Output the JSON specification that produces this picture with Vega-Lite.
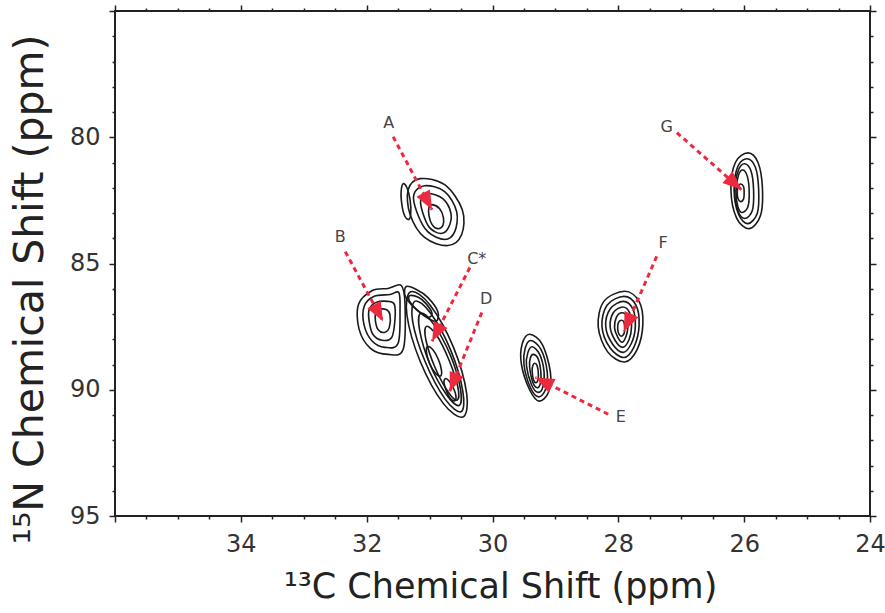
{
  "$schema": "https://vega.github.io/schema/vega-lite/v6.json",
  "width": 755,
  "height": 505,
  "autosize": {"type": "none"},
  "padding": {"left": 115, "top": 11, "right": 15, "bottom": 97},
  "background": "white",
  "config": {"view": {"stroke": "#222", "strokeWidth": 2}, "font": "DejaVu Sans"},
  "datasets": {
    "contours": [
      {"c":"A1","i":0,"x":31.15,"y":81.64},{"c":"A1","i":1,"x":30.76,"y":81.88},{"c":"A1","i":2,"x":30.48,"y":82.87},{"c":"A1","i":3,"x":30.49,"y":83.85},{"c":"A1","i":4,"x":30.71,"y":84.29},{"c":"A1","i":5,"x":31.08,"y":83.97},{"c":"A1","i":6,"x":31.31,"y":83.06},{"c":"A1","i":7,"x":31.34,"y":82.08},
      {"c":"A2","i":0,"x":31.08,"y":81.92},{"c":"A2","i":1,"x":30.76,"y":82.15},{"c":"A2","i":2,"x":30.57,"y":82.94},{"c":"A2","i":3,"x":30.60,"y":83.74},{"c":"A2","i":4,"x":30.76,"y":84.05},{"c":"A2","i":5,"x":31.03,"y":83.74},{"c":"A2","i":6,"x":31.20,"y":82.98},{"c":"A2","i":7,"x":31.25,"y":82.27},
      {"c":"A3","i":0,"x":31.03,"y":82.23},{"c":"A3","i":1,"x":30.79,"y":82.43},{"c":"A3","i":2,"x":30.66,"y":83.02},{"c":"A3","i":3,"x":30.70,"y":83.58},{"c":"A3","i":4,"x":30.82,"y":83.81},{"c":"A3","i":5,"x":31.00,"y":83.58},{"c":"A3","i":6,"x":31.11,"y":82.98},{"c":"A3","i":7,"x":31.14,"y":82.47},
      {"c":"A4","i":0,"x":30.96,"y":82.67},{"c":"A4","i":1,"x":30.84,"y":82.83},{"c":"A4","i":2,"x":30.78,"y":83.18},{"c":"A4","i":3,"x":30.79,"y":83.50},{"c":"A4","i":4,"x":30.87,"y":83.62},{"c":"A4","i":5,"x":30.96,"y":83.46},{"c":"A4","i":6,"x":31.01,"y":83.10},{"c":"A4","i":7,"x":31.01,"y":82.79},
      {"c":"A5","i":0,"x":31.42,"y":81.84},{"c":"A5","i":1,"x":31.36,"y":82.00},{"c":"A5","i":2,"x":31.31,"y":82.47},{"c":"A5","i":3,"x":31.30,"y":83.06},{"c":"A5","i":4,"x":31.34,"y":83.26},{"c":"A5","i":5,"x":31.41,"y":83.02},{"c":"A5","i":6,"x":31.45,"y":82.47},{"c":"A5","i":7,"x":31.45,"y":82.08},
      {"c":"G1","i":0,"x":25.94,"y":80.62},{"c":"G1","i":1,"x":25.78,"y":81.0},{"c":"G1","i":2,"x":25.71,"y":82.0},{"c":"G1","i":3,"x":25.74,"y":83.1},{"c":"G1","i":4,"x":25.92,"y":83.62},{"c":"G1","i":5,"x":26.12,"y":83.2},{"c":"G1","i":6,"x":26.21,"y":82.1},{"c":"G1","i":7,"x":26.14,"y":81.0},
      {"c":"G2","i":0,"x":25.95,"y":80.85},{"c":"G2","i":1,"x":25.82,"y":81.2},{"c":"G2","i":2,"x":25.77,"y":82.05},{"c":"G2","i":3,"x":25.79,"y":83.0},{"c":"G2","i":4,"x":25.94,"y":83.42},{"c":"G2","i":5,"x":26.09,"y":83.05},{"c":"G2","i":6,"x":26.16,"y":82.1},{"c":"G2","i":7,"x":26.10,"y":81.15},
      {"c":"G3","i":0,"x":25.99,"y":81.05},{"c":"G3","i":1,"x":25.89,"y":81.35},{"c":"G3","i":2,"x":25.85,"y":82.1},{"c":"G3","i":3,"x":25.87,"y":82.9},{"c":"G3","i":4,"x":25.99,"y":83.22},{"c":"G3","i":5,"x":26.10,"y":82.9},{"c":"G3","i":6,"x":26.15,"y":82.1},{"c":"G3","i":7,"x":26.09,"y":81.3},
      {"c":"G4","i":0,"x":26.02,"y":81.3},{"c":"G4","i":1,"x":25.95,"y":81.55},{"c":"G4","i":2,"x":25.92,"y":82.15},{"c":"G4","i":3,"x":25.94,"y":82.75},{"c":"G4","i":4,"x":26.03,"y":82.98},{"c":"G4","i":5,"x":26.10,"y":82.75},{"c":"G4","i":6,"x":26.13,"y":82.15},{"c":"G4","i":7,"x":26.09,"y":81.5},
      {"c":"G5","i":0,"x":26.06,"y":81.85},{"c":"G5","i":1,"x":26.01,"y":81.95},{"c":"G5","i":2,"x":26.0,"y":82.2},{"c":"G5","i":3,"x":26.01,"y":82.45},{"c":"G5","i":4,"x":26.06,"y":82.55},{"c":"G5","i":5,"x":26.1,"y":82.42},{"c":"G5","i":6,"x":26.11,"y":82.2},{"c":"G5","i":7,"x":26.1,"y":81.97},
      {"c":"F1","i":0,"x":27.90,"y":86.1},{"c":"F1","i":1,"x":27.67,"y":86.5},{"c":"F1","i":2,"x":27.61,"y":87.4},{"c":"F1","i":3,"x":27.70,"y":88.4},{"c":"F1","i":4,"x":27.90,"y":88.9},{"c":"F1","i":5,"x":28.17,"y":88.5},{"c":"F1","i":6,"x":28.32,"y":87.5},{"c":"F1","i":7,"x":28.23,"y":86.5},
      {"c":"F2","i":0,"x":27.91,"y":86.3},{"c":"F2","i":1,"x":27.72,"y":86.65},{"c":"F2","i":2,"x":27.67,"y":87.45},{"c":"F2","i":3,"x":27.75,"y":88.3},{"c":"F2","i":4,"x":27.91,"y":88.72},{"c":"F2","i":5,"x":28.13,"y":88.35},{"c":"F2","i":6,"x":28.26,"y":87.5},{"c":"F2","i":7,"x":28.18,"y":86.65},
      {"c":"F3","i":0,"x":27.92,"y":86.5},{"c":"F3","i":1,"x":27.77,"y":86.8},{"c":"F3","i":2,"x":27.73,"y":87.5},{"c":"F3","i":3,"x":27.79,"y":88.15},{"c":"F3","i":4,"x":27.92,"y":88.52},{"c":"F3","i":5,"x":28.09,"y":88.2},{"c":"F3","i":6,"x":28.20,"y":87.5},{"c":"F3","i":7,"x":28.13,"y":86.8},
      {"c":"F4","i":0,"x":27.93,"y":86.72},{"c":"F4","i":1,"x":27.82,"y":86.95},{"c":"F4","i":2,"x":27.79,"y":87.5},{"c":"F4","i":3,"x":27.83,"y":88.02},{"c":"F4","i":4,"x":27.93,"y":88.32},{"c":"F4","i":5,"x":28.05,"y":88.05},{"c":"F4","i":6,"x":28.13,"y":87.5},{"c":"F4","i":7,"x":28.08,"y":86.95},
      {"c":"F5","i":0,"x":27.94,"y":86.95},{"c":"F5","i":1,"x":27.87,"y":87.1},{"c":"F5","i":2,"x":27.85,"y":87.55},{"c":"F5","i":3,"x":27.88,"y":87.9},{"c":"F5","i":4,"x":27.94,"y":88.12},{"c":"F5","i":5,"x":28.01,"y":87.92},{"c":"F5","i":6,"x":28.06,"y":87.55},{"c":"F5","i":7,"x":28.03,"y":87.12},
      {"c":"F6","i":0,"x":27.95,"y":87.25},{"c":"F6","i":1,"x":27.91,"y":87.33},{"c":"F6","i":2,"x":27.90,"y":87.6},{"c":"F6","i":3,"x":27.91,"y":87.78},{"c":"F6","i":4,"x":27.95,"y":87.88},{"c":"F6","i":5,"x":27.99,"y":87.8},{"c":"F6","i":6,"x":28.01,"y":87.6},{"c":"F6","i":7,"x":28.0,"y":87.35},
      {"c":"E1","i":0,"x":29.41,"y":87.8},{"c":"E1","i":1,"x":29.21,"y":88.2},{"c":"E1","i":2,"x":29.08,"y":89.3},{"c":"E1","i":3,"x":29.11,"y":90.1},{"c":"E1","i":4,"x":29.26,"y":90.45},{"c":"E1","i":5,"x":29.41,"y":90.0},{"c":"E1","i":6,"x":29.54,"y":89.0},{"c":"E1","i":7,"x":29.53,"y":88.2},
      {"c":"E2","i":0,"x":29.39,"y":88.05},{"c":"E2","i":1,"x":29.23,"y":88.4},{"c":"E2","i":2,"x":29.13,"y":89.3},{"c":"E2","i":3,"x":29.16,"y":90.0},{"c":"E2","i":4,"x":29.27,"y":90.28},{"c":"E2","i":5,"x":29.40,"y":89.9},{"c":"E2","i":6,"x":29.50,"y":89.0},{"c":"E2","i":7,"x":29.48,"y":88.35},
      {"c":"E3","i":0,"x":29.37,"y":88.3},{"c":"E3","i":1,"x":29.25,"y":88.6},{"c":"E3","i":2,"x":29.18,"y":89.3},{"c":"E3","i":3,"x":29.20,"y":89.9},{"c":"E3","i":4,"x":29.28,"y":90.1},{"c":"E3","i":5,"x":29.38,"y":89.8},{"c":"E3","i":6,"x":29.46,"y":89.05},{"c":"E3","i":7,"x":29.44,"y":88.55},
      {"c":"E4","i":0,"x":29.35,"y":88.6},{"c":"E4","i":1,"x":29.27,"y":88.8},{"c":"E4","i":2,"x":29.23,"y":89.35},{"c":"E4","i":3,"x":29.24,"y":89.75},{"c":"E4","i":4,"x":29.29,"y":89.92},{"c":"E4","i":5,"x":29.36,"y":89.7},{"c":"E4","i":6,"x":29.41,"y":89.1},{"c":"E4","i":7,"x":29.40,"y":88.75},
      {"c":"E5","i":0,"x":29.33,"y":88.95},{"c":"E5","i":1,"x":29.29,"y":89.05},{"c":"E5","i":2,"x":29.27,"y":89.4},{"c":"E5","i":3,"x":29.28,"y":89.62},{"c":"E5","i":4,"x":29.31,"y":89.72},{"c":"E5","i":5,"x":29.35,"y":89.6},{"c":"E5","i":6,"x":29.37,"y":89.25},{"c":"E5","i":7,"x":29.36,"y":89.05},
      {"c":"B1","i":0,"x":31.91,"y":86.07},{"c":"B1","i":1,"x":31.66,"y":85.99},{"c":"B1","i":2,"x":31.45,"y":85.87},{"c":"B1","i":3,"x":31.39,"y":86.62},{"c":"B1","i":4,"x":31.42,"y":88.40},{"c":"B1","i":5,"x":31.66,"y":88.60},{"c":"B1","i":6,"x":31.94,"y":88.36},{"c":"B1","i":7,"x":32.12,"y":87.61},{"c":"B1","i":8,"x":32.13,"y":86.62},
      {"c":"B2","i":0,"x":31.88,"y":86.30},{"c":"B2","i":1,"x":31.63,"y":86.23},{"c":"B2","i":2,"x":31.49,"y":86.15},{"c":"B2","i":3,"x":31.47,"y":86.82},{"c":"B2","i":4,"x":31.50,"y":88.16},{"c":"B2","i":5,"x":31.71,"y":88.32},{"c":"B2","i":6,"x":31.91,"y":88.08},{"c":"B2","i":7,"x":32.04,"y":87.45},{"c":"B2","i":8,"x":32.04,"y":86.70},
      {"c":"B3","i":0,"x":31.85,"y":86.54},{"c":"B3","i":1,"x":31.66,"y":86.50},{"c":"B3","i":2,"x":31.56,"y":86.62},{"c":"B3","i":3,"x":31.55,"y":87.21},{"c":"B3","i":4,"x":31.60,"y":87.92},{"c":"B3","i":5,"x":31.75,"y":88.04},{"c":"B3","i":6,"x":31.90,"y":87.81},{"c":"B3","i":7,"x":31.96,"y":87.29},{"c":"B3","i":8,"x":31.96,"y":86.82},
      {"c":"B4","i":0,"x":31.82,"y":86.82},{"c":"B4","i":1,"x":31.69,"y":86.82},{"c":"B4","i":2,"x":31.63,"y":87.02},{"c":"B4","i":3,"x":31.64,"y":87.53},{"c":"B4","i":4,"x":31.72,"y":87.73},{"c":"B4","i":5,"x":31.82,"y":87.61},{"c":"B4","i":6,"x":31.86,"y":87.29},{"c":"B4","i":7,"x":31.86,"y":86.98},
      {"c":"CD1","i":0,"x":30.47,"y":91.08},{"c":"CD1","i":1,"x":30.41,"y":90.16},{"c":"CD1","i":2,"x":30.62,"y":88.32},{"c":"CD1","i":3,"x":30.99,"y":86.65},{"c":"CD1","i":4,"x":31.30,"y":86.12},{"c":"CD1","i":5,"x":31.36,"y":87.04},{"c":"CD1","i":6,"x":31.15,"y":88.87},{"c":"CD1","i":7,"x":30.78,"y":90.55},
      {"c":"CD2","i":0,"x":30.50,"y":90.87},{"c":"CD2","i":1,"x":30.47,"y":90.08},{"c":"CD2","i":2,"x":30.66,"y":88.46},{"c":"CD2","i":3,"x":30.98,"y":86.98},{"c":"CD2","i":4,"x":31.23,"y":86.49},{"c":"CD2","i":5,"x":31.27,"y":87.28},{"c":"CD2","i":6,"x":31.07,"y":88.89},{"c":"CD2","i":7,"x":30.75,"y":90.38},
      {"c":"CD3","i":0,"x":30.53,"y":90.62},{"c":"CD3","i":1,"x":30.51,"y":89.96},{"c":"CD3","i":2,"x":30.67,"y":88.63},{"c":"CD3","i":3,"x":30.94,"y":87.39},{"c":"CD3","i":4,"x":31.14,"y":86.97},{"c":"CD3","i":5,"x":31.16,"y":87.62},{"c":"CD3","i":6,"x":31.00,"y":88.96},{"c":"CD3","i":7,"x":30.73,"y":90.20},
      {"c":"CD4","i":0,"x":30.56,"y":90.41},{"c":"CD4","i":1,"x":30.55,"y":89.90},{"c":"CD4","i":2,"x":30.69,"y":88.83},{"c":"CD4","i":3,"x":30.89,"y":87.83},{"c":"CD4","i":4,"x":31.05,"y":87.49},{"c":"CD4","i":5,"x":31.06,"y":88.01},{"c":"CD4","i":6,"x":30.92,"y":89.08},{"c":"CD4","i":7,"x":30.71,"y":90.07},
      {"c":"Cin","i":0,"x":30.83,"y":89.46},{"c":"Cin","i":1,"x":30.81,"y":89.24},{"c":"Cin","i":2,"x":30.86,"y":88.80},{"c":"Cin","i":3,"x":30.95,"y":88.41},{"c":"Cin","i":4,"x":31.03,"y":88.29},{"c":"Cin","i":5,"x":31.05,"y":88.51},{"c":"Cin","i":6,"x":31.00,"y":88.95},{"c":"Cin","i":7,"x":30.91,"y":89.34},
      {"c":"Din","i":0,"x":30.60,"y":90.44},{"c":"Din","i":1,"x":30.58,"y":90.26},{"c":"Din","i":2,"x":30.62,"y":89.94},{"c":"Din","i":3,"x":30.69,"y":89.65},{"c":"Din","i":4,"x":30.75,"y":89.56},{"c":"Din","i":5,"x":30.77,"y":89.73},{"c":"Din","i":6,"x":30.73,"y":90.06},{"c":"Din","i":7,"x":30.67,"y":90.35},
      {"c":"CS1","i":0,"x":31.37,"y":85.91},{"c":"CS1","i":1,"x":31.21,"y":86.03},{"c":"CS1","i":2,"x":31.03,"y":86.34},{"c":"CS1","i":3,"x":30.87,"y":86.90},{"c":"CS1","i":4,"x":30.90,"y":87.29},{"c":"CS1","i":5,"x":31.09,"y":87.06},{"c":"CS1","i":6,"x":31.28,"y":86.66},{"c":"CS1","i":7,"x":31.39,"y":86.27},
      {"c":"CS2","i":0,"x":31.31,"y":86.27},{"c":"CS2","i":1,"x":31.18,"y":86.34},{"c":"CS2","i":2,"x":31.06,"y":86.58},{"c":"CS2","i":3,"x":30.96,"y":86.98},{"c":"CS2","i":4,"x":31.03,"y":87.13},{"c":"CS2","i":5,"x":31.17,"y":86.90},{"c":"CS2","i":6,"x":31.28,"y":86.62},{"c":"CS2","i":7,"x":31.33,"y":86.42}
    ],
    "arrows": [
      {"label":"A","tail_x":31.58,"tail_y":79.98,"tip_x":30.96,"tip_y":82.87,"lx":31.65,"ly":79.43},
      {"label":"B","tail_x":32.34,"tail_y":84.53,"tip_x":31.74,"tip_y":87.29,"lx":32.42,"ly":83.97},
      {"label":"C*","tail_x":30.36,"tail_y":85.16,"tip_x":30.96,"tip_y":88.08,"lx":30.25,"ly":84.84},
      {"label":"D","tail_x":30.17,"tail_y":86.94,"tip_x":30.68,"tip_y":90.06,"lx":30.10,"ly":86.42},
      {"label":"E","tail_x":28.16,"tail_y":90.97,"tip_x":29.32,"tip_y":89.51,"lx":27.96,"ly":91.09},
      {"label":"F","tail_x":27.39,"tail_y":84.72,"tip_x":27.91,"tip_y":87.69,"lx":27.29,"ly":84.17},
      {"label":"G","tail_x":27.07,"tail_y":79.82,"tip_x":26.04,"tip_y":82.08,"lx":27.23,"ly":79.58}
    ]
  },
  "layer": [
    {
      "data": {"name": "contours"},
      "mark": {"type": "line", "interpolate": "cardinal-closed", "stroke": "#1a1a1a", "strokeWidth": 1.6},
      "encoding": {
        "x": {"field": "x", "type": "quantitative",
          "scale": {"domain": [24, 36], "reverse": true, "nice": false, "zero": false},
          "axis": {"orient": "bottom", "values": [24,24.5,25,25.5,26,26.5,27,27.5,28,28.5,29,29.5,30,30.5,31,31.5,32,32.5,33,33.5,34,34.5,35,35.5,36],
            "grid": false, "domain": false, "tickColor": "#222", "tickWidth": 1.5,
            "tickSize": {"condition": {"test": "datum.value % 2 === 0", "value": 6}, "value": 3},
            "labelExpr": "datum.value % 2 === 0 && datum.value < 35 ? '' + datum.value : ''",
            "labelFont": "DejaVu Sans", "labelFontSize": 24, "labelColor": "#333", "labelPadding": 10,
            "labelOverlap": false, "labelFlush": false,
            "title": "¹³C Chemical Shift (ppm)", "titleFont": "DejaVu Sans", "titleFontSize": 35, "titleFontWeight": "normal",
            "titleColor": "#222", "titleX": 385, "titleY": 81, "titleBaseline": "alphabetic", "titleAlign": "center"}},
        "y": {"field": "y", "type": "quantitative",
          "scale": {"domain": [75, 95], "reverse": true, "nice": false, "zero": false},
          "axis": {"orient": "left", "values": [75,76,77,78,79,80,81,82,83,84,85,86,87,88,89,90,91,92,93,94,95],
            "grid": false, "domain": false, "tickColor": "#222", "tickWidth": 1.5,
            "tickSize": {"condition": {"test": "datum.value % 5 === 0", "value": 6}, "value": 3},
            "labelExpr": "datum.value % 5 === 0 && datum.value > 76 ? '' + datum.value : ''",
            "labelFont": "DejaVu Sans", "labelFontSize": 24, "labelColor": "#333", "labelPadding": 9,
            "labelOverlap": false, "labelFlush": false,
            "title": "¹⁵N Chemical Shift (ppm)", "titleFont": "DejaVu Sans", "titleFontSize": 41, "titleFontWeight": "normal",
            "titleColor": "#222", "titleAngle": -90, "titleX": -73, "titleY": 278, "titleBaseline": "alphabetic", "titleAlign": "center"}},
        "detail": {"field": "c", "type": "nominal"},
        "order": {"field": "i", "type": "quantitative"}
      }
    },
    {
      "data": {"name": "arrows"},
      "mark": {"type": "rule", "stroke": "#ec2a3e", "strokeWidth": 3, "strokeDash": [5, 4]},
      "encoding": {
        "x": {"field": "tail_x", "type": "quantitative", "axis": null},
        "x2": {"field": "tip_x"},
        "y": {"field": "tail_y", "type": "quantitative", "axis": null},
        "y2": {"field": "tip_y"}
      }
    },
    {
      "data": {"name": "arrows"},
      "mark": {"type": "point", "shape": "M0,0 L-0.85,2.1 L0.85,2.1 Z", "filled": true, "color": "#ec2a3e", "opacity": 1, "size": 324,
        "angle": {"expr": "atan2(scale('x', datum.tip_x) - scale('x', datum.tail_x), scale('y', datum.tail_y) - scale('y', datum.tip_y)) * 180 / PI"}},
      "encoding": {
        "x": {"field": "tip_x", "type": "quantitative", "axis": null},
        "y": {"field": "tip_y", "type": "quantitative", "axis": null}
      }
    },
    {
      "data": {"name": "arrows"},
      "mark": {"type": "text", "font": "DejaVu Sans", "fontSize": 16, "color": "#444", "align": "center", "baseline": "middle"},
      "encoding": {
        "x": {"field": "lx", "type": "quantitative",
          "axis": {"orient": "top", "values": [24,24.5,25,25.5,26,26.5,27,27.5,28,28.5,29,29.5,30,30.5,31,31.5,32,32.5,33,33.5,34,34.5,35,35.5,36],
            "grid": false, "domain": false, "labels": false, "title": null, "tickColor": "#222", "tickWidth": 1.5,
            "tickSize": {"condition": {"test": "datum.value % 2 === 0", "value": 6}, "value": 3}}},
        "y": {"field": "ly", "type": "quantitative",
          "axis": {"orient": "right", "values": [75,76,77,78,79,80,81,82,83,84,85,86,87,88,89,90,91,92,93,94,95],
            "grid": false, "domain": false, "labels": false, "title": null, "tickColor": "#222", "tickWidth": 1.5,
            "tickSize": {"condition": {"test": "datum.value % 5 === 0", "value": 6}, "value": 3}}},
        "text": {"field": "label", "type": "nominal"}
      }
    }
  ],
  "resolve": {"axis": {"x": "independent", "y": "independent"}}
}
